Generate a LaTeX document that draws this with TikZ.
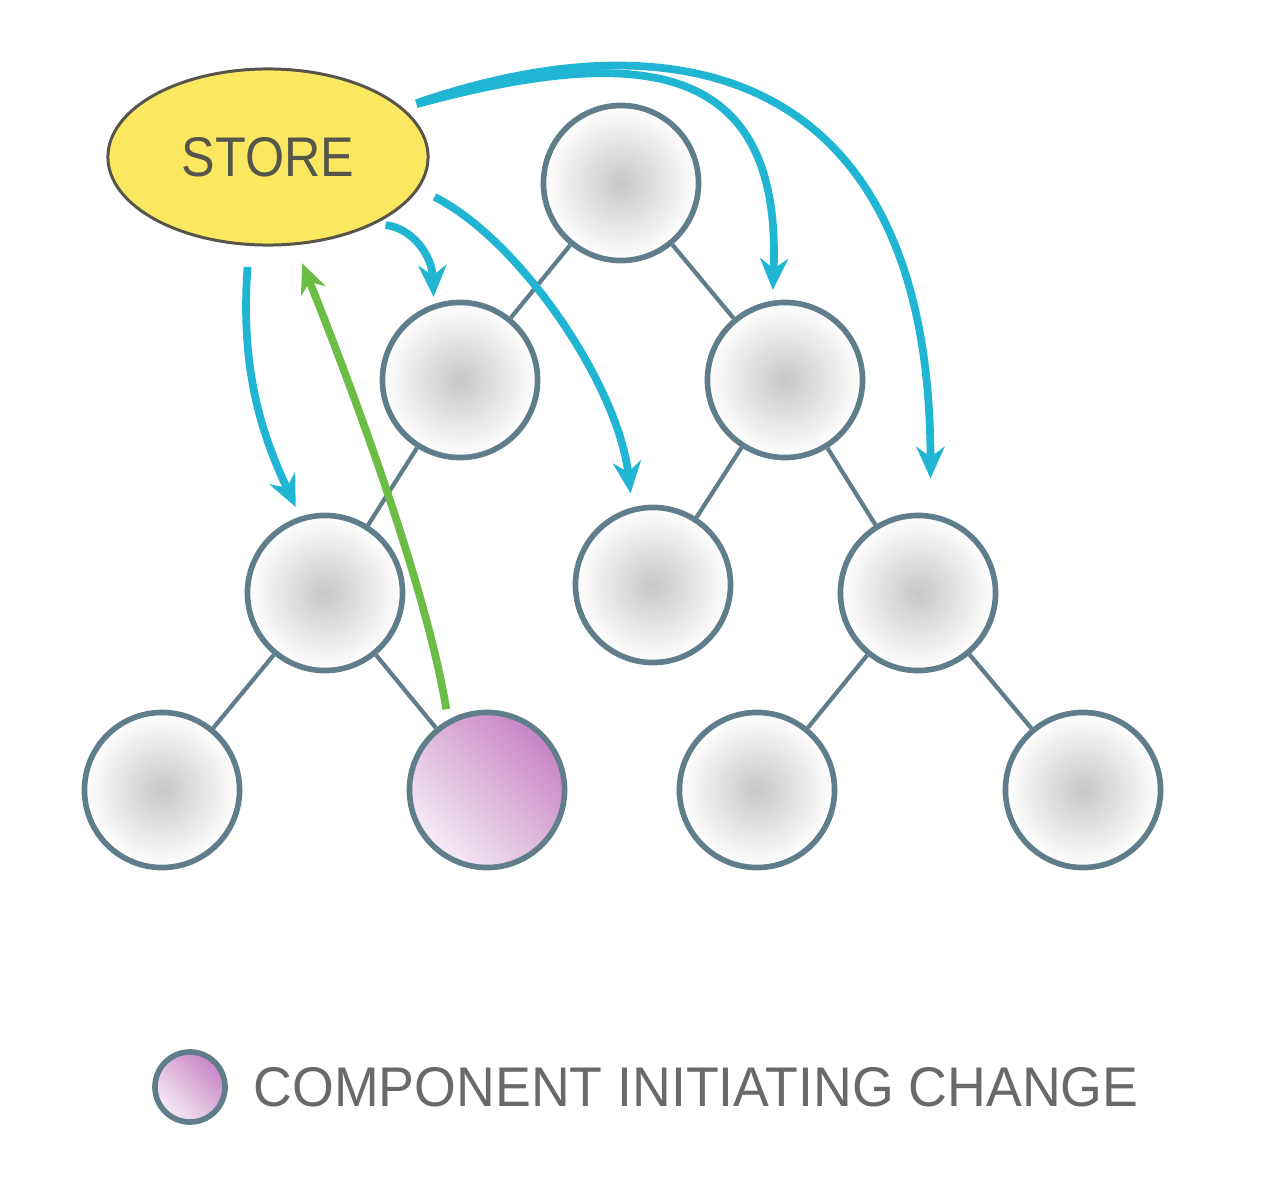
\documentclass[tikz,border=0pt]{standalone}
\usepackage{fontspec}
\usetikzlibrary{arrows.meta,shapes.geometric}
\newfontfamily\storefont[FakeStretch=0.9]{Liberation Sans}
\newfontfamily\legendfont[FakeStretch=0.96]{Liberation Sans}
\definecolor{flowcyan}{RGB}{32,181,210}
\definecolor{flowgreen}{RGB}{108,189,69}
\definecolor{slate}{RGB}{96,125,139}
\definecolor{storeyellow}{RGB}{252,232,96}
\definecolor{storeline}{RGB}{85,85,75}
\definecolor{pinklight}{RGB}{246,236,245}
\definecolor{pinkdark}{RGB}{199,132,197}
\definecolor{legendgray}{RGB}{105,105,105}
\tikzset{
	comp/.style={circle, draw=slate, line width=1.6pt, minimum size=1.55cm, inner sep=0pt, inner color=black!22, outer color=white},
	initiator/.style={circle, draw=slate, line width=1.6pt, minimum size=1.55cm, inner sep=0pt, bottom color=pinklight, top color=pinkdark, shading angle=-45},
	link/.style={draw=slate, line width=1.2pt},
	notify/.style={-{Stealth[length=9pt,width=8pt]}, flowcyan, line width=2.2pt},
	dispatch/.style={-{Stealth[length=8.5pt,width=7.5pt]}, flowgreen, line width=2.2pt},
}
\begin{document}
\begin{tikzpicture}[x=0.01cm, y=-0.01cm]
	\useasboundingbox[fill=white] (0,0) rectangle (1272,1188);
	% store
	\node[ellipse, draw=storeline, fill=storeyellow, line width=0.85pt, minimum width=3.2cm, minimum height=1.76cm, inner sep=0pt, text=storeline, font=\storefont\fontsize{15.9}{18}\selectfont] (store) at (268,157) {STORE};
	% component tree
	\node[comp] (root) at (621,183) {};
	\node[comp] (l2a) at (460,380) {};
	\node[comp] (l2b) at (785,380) {};
	\node[comp] (l3a) at (325,593) {};
	\node[comp] (l3b) at (653,585) {};
	\node[comp] (l3c) at (918,593) {};
	\node[comp] (l4a) at (162,790) {};
	\node[initiator] (init) at (487,790) {};
	\node[comp] (l4c) at (757,790) {};
	\node[comp] (l4d) at (1083,790) {};
	\draw[link] (root) -- (l2a);
	\draw[link] (root) -- (l2b);
	\draw[link] (l2a) -- (l3a);
	\draw[link] (l2b) -- (l3b);
	\draw[link] (l2b) -- (l3c);
	\draw[link] (l3a) -- (l4a);
	\draw[link] (l3a) -- (init);
	\draw[link] (l3c) -- (l4c);
	\draw[link] (l3c) -- (l4d);
	% updates from the store
	\draw[notify, shorten <=6pt, shorten >=3pt] (store.-102) .. controls (240,370) and (262,435) .. (l3a.108);
	\draw[notify, shorten <=3pt, shorten >=2pt] (store.-32) .. controls (412,228) and (432,255) .. (l2a.109);
	\draw[notify, shorten <=5pt, shorten >=4pt] (store.-12) .. controls (520,240) and (618,385) .. (l3b.105);
	\draw[notify, shorten <=4pt, shorten >=3pt] (store.20) .. controls (645,42) and (782,62) .. (l2b.99.5);
	\draw[notify, shorten <=4pt, shorten >=10pt] (store.20) .. controls (680,12) and (930,70) .. (l3c.81.6);
	% change sent to the store
	\draw[dispatch, shorten <=3pt, shorten >=5.5pt] (init.119.4) .. controls (425,580) and (345,370) .. (store.-73);
	% legend
	\node[initiator, minimum size=0.7cm] (key) at (190,1087) {};
	\node[anchor=west, inner sep=0pt, text=legendgray, font=\legendfont\fontsize{15.9}{18}\selectfont] (keytext) at (253,1087) {COMPONENT INITIATING CHANGE};
\end{tikzpicture}
\end{document}
